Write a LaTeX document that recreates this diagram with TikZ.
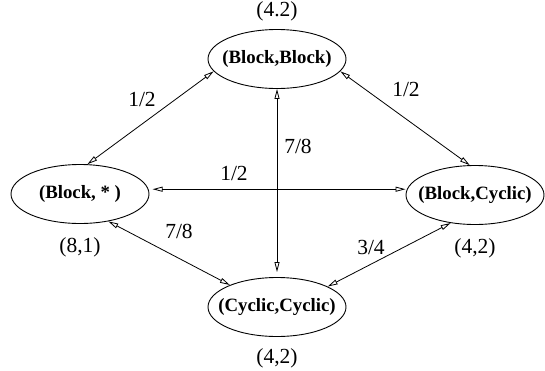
\documentclass[tikz,border=0pt]{standalone}
\usepackage{fontspec}
\setmainfont{Liberation Serif}
\usetikzlibrary{shapes.geometric,arrows.meta}
\tikzset{
  state/.style={draw, ellipse, line width=0.9pt, inner xsep=-20pt, inner ysep=0pt,
    minimum width=138pt, minimum height=59pt,
    font=\fontsize{18.8}{22}\selectfont\bfseries},
  wt/.style={inner sep=0pt, font=\fontsize{21.5}{25}\selectfont},
  link/.style={line width=0.8pt,
    {Triangle[open,length=10pt,width=5pt]}-{Triangle[open,length=10pt,width=5pt]}},
}

\begin{document}
\begin{tikzpicture}[x=1pt, y=-1pt]
    \useasboundingbox (0,0) rectangle (545,370);
    % the four states
    \node[state] (bb) at (277,59) {(Block,Block)};
    \node[state] (bs) at (80,194) {(Block, * )};
    \node[state] (bc) at (475,195) {(Block,Cyclic)};
    \node[state] (cc) at (277,307) {(Cyclic,Cyclic)};
    % sizes under/over each state
    \node[wt] (wbb) at (277,11.5) {(4.2)};
    \node[wt] (wbs) at (80,247) {(8,1)};
    \node[wt] (wbc) at (475,248) {(4,2)};
    \node[wt] (wcc) at (277,358) {(4,2)};
    % transitions
    \draw[link] (bb.191) -- (bs.76);
    \draw[link] (bb.349) -- (bc.100);
    \draw[link, shorten <=4pt] (bs.4) -- (bc.west |- bs.4);
    \draw[link, shorten >=5pt] (bb.south) -- (cc.north);
    \draw[link] (bs.316) -- (cc.155);
    \draw[link] (bc.229) -- (cc.22);
    % weights
    \node[wt] (lbbbs) at (142,99) {1/2};
    \node[wt] (lbbbc) at (406,89) {1/2};
    \node[wt] (lbbcc) at (298,146) {7/8};
    \node[wt] (lbsbc) at (234,173) {1/2};
    \node[wt] (lbscc) at (179,231) {7/8};
    \node[wt] (lbccc) at (371,247) {3/4};
\end{tikzpicture}
\end{document}
